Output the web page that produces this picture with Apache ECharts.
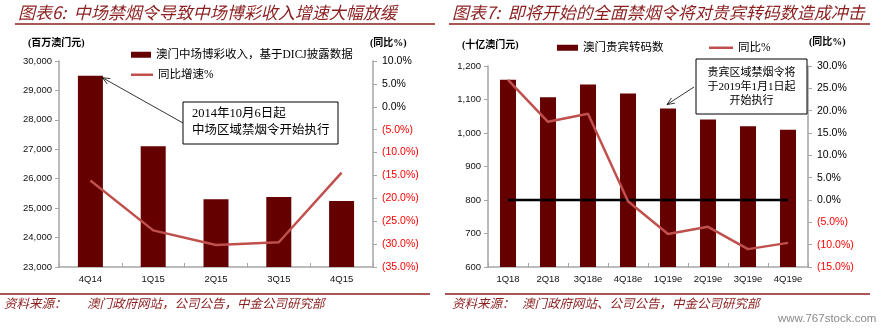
<!DOCTYPE html>
<html><head><meta charset="utf-8">
<script src="https://cdn.jsdelivr.net/npm/echarts@6/dist/echarts.min.js"></script>
<style>html,body{margin:0;padding:0;background:#fff}#c{width:889px;height:330px}</style>
</head><body><div id="c"></div>
<script>
// ---- data ----
const leftCats = ['4Q14', '1Q15', '2Q15', '3Q15', '4Q15'];
const leftRevenue = [29500, 27100, 25300, 25380, 25240];
const leftYoY = [-16.1, -27.0, -30.2, -29.6, -14.4];
const leftAxisMin = 23000, leftAxisMax = 30000, leftAxisStep = 1000;
const leftPctMin = -35, leftPctMax = 10, leftPctStep = 5;

const rightCats = ['1Q18', '2Q18', '3Q18e', '4Q18e', '1Q19e', '2Q19e', '3Q19e', '4Q19e'];
const rightRolling = [1159, 1107, 1145, 1118, 1073, 1040, 1020, 1010];
const rightYoY = [26.9, 17.5, 19.3, -0.3, -7.6, -6.0, -11.0, -9.6];
const rightZero = [0, 0, 0, 0, 0, 0, 0, 0];
const rightAxisMin = 600, rightAxisMax = 1200, rightAxisStep = 100;
const rightPctMin = -15, rightPctMax = 30, rightPctStep = 5;

const nameLeftBar = '澳门中场博彩收入，基于DICJ披露数据';
const nameLeftLine = '同比增速%';
const nameRightBar = '澳门贵宾转码数';
const nameRightLine = '同比%';

// ---- styles ----
const BAR = '#640000', LINE = '#C0504D', AXIS = '#a6a6a6', TITLE = '#8B1E1E';
const NUM = "'Liberation Sans', Arial, sans-serif";
const CJK = "'Noto Sans CJK SC', sans-serif";
const SERIF = "'Liberation Serif', 'Noto Sans CJK SC', serif";

const pctFmt = v => { v = +v; return v < 0 ? '(' + Math.abs(v).toFixed(1) + '%)' : v.toFixed(1) + '%'; };
const pctColor = v => (+v < 0 ? '#FF0000' : '#000');

function catAxis(grid, data) {
  return {
    type: 'category', gridIndex: grid, data: data,
    axisLine: { onZero: false, lineStyle: { color: AXIS, width: 1.5 } },
    axisTick: { show: true, inside: true, length: 4, lineStyle: { color: AXIS } },
    axisLabel: { color: '#111', fontSize: 9.5, fontFamily: NUM, margin: 7 }
  };
}
function valAxis(grid, pos, min, max, step, fmt, color, fs, margin) {
  return {
    type: 'value', gridIndex: grid, position: pos, min: min, max: max, interval: step,
    splitLine: { show: false },
    axisLine: { show: true, onZero: false, lineStyle: { color: AXIS, width: 1.5 } },
    axisTick: { show: true, length: 4, lineStyle: { color: AXIS } },
    axisLabel: { formatter: fmt, color: color, fontSize: fs, fontFamily: NUM, margin: margin }
  };
}
const legText = { fontSize: 11.5, fontFamily: SERIF, color: '#000' };

const chart = echarts.init(document.getElementById('c'), null, { renderer: 'canvas' });

const option = {
  animation: false,
  grid: [
    { left: 59, right: 516, top: 61, bottom: 63 },
    { left: 488, right: 81, top: 66, bottom: 63 }
  ],
  legend: [
    { data: [{ name: nameLeftBar, icon: 'rect' }], left: 126, top: 44, itemWidth: 20, itemHeight: 6, textStyle: legText },
    { data: [{ name: nameLeftLine, icon: 'rect' }], left: 126, top: 64, itemWidth: 22, itemHeight: 2.5, textStyle: legText },
    { data: [{ name: nameRightBar, icon: 'rect' }], left: 552, top: 37, itemWidth: 21, itemHeight: 6, textStyle: legText },
    { data: [{ name: nameRightLine, icon: 'rect' }], left: 704, top: 37, itemWidth: 24, itemHeight: 2.5, textStyle: legText }
  ],
  xAxis: [catAxis(0, leftCats), catAxis(1, rightCats)],
  yAxis: [
    valAxis(0, 'left', leftAxisMin, leftAxisMax, leftAxisStep, v => Number(v).toLocaleString('en-US'), '#111', 9.5, 7),
    valAxis(0, 'right', leftPctMin, leftPctMax, leftPctStep, pctFmt, pctColor, 10.5, 9),
    valAxis(1, 'left', rightAxisMin, rightAxisMax, rightAxisStep, v => Number(v).toLocaleString('en-US'), '#111', 9.5, 7),
    valAxis(1, 'right', rightPctMin, rightPctMax, rightPctStep, pctFmt, pctColor, 10.5, 9)
  ],
  series: [
    { name: nameLeftBar, type: 'bar', xAxisIndex: 0, yAxisIndex: 0, data: leftRevenue, barWidth: 25,
      itemStyle: { color: BAR } },
    { name: nameLeftLine, type: 'line', xAxisIndex: 0, yAxisIndex: 1, data: leftYoY, symbol: 'none',
      lineStyle: { color: LINE, width: 2.5 }, itemStyle: { color: LINE } },
    { name: nameRightBar, type: 'bar', xAxisIndex: 1, yAxisIndex: 2, data: rightRolling, barWidth: 16,
      itemStyle: { color: BAR } },
    { name: 'zero', type: 'line', xAxisIndex: 1, yAxisIndex: 3, data: rightZero, symbol: 'none',
      lineStyle: { color: '#000', width: 2.5 }, z: 3 },
    { name: nameRightLine, type: 'line', xAxisIndex: 1, yAxisIndex: 3, data: rightYoY, symbol: 'none',
      lineStyle: { color: LINE, width: 2.5 }, itemStyle: { color: LINE }, z: 4 }
  ]
};
chart.setOption(option);

function arrow(x1, y1, x2, y2) {
  const ang = Math.atan2(y2 - y1, x2 - x1), L = 8, a = 0.4;
  const p1 = [x2 - L * Math.cos(ang - a), y2 - L * Math.sin(ang - a)];
  const p2 = [x2 - L * Math.cos(ang + a), y2 - L * Math.sin(ang + a)];
  return [
    { type: 'line', z: 100, shape: { x1: x1, y1: y1, x2: x2, y2: y2 }, style: { stroke: '#000', lineWidth: 0.8 } },
    { type: 'polyline', z: 100, shape: { points: [p1, [x2, y2], p2] }, style: { stroke: '#000', lineWidth: 0.8, fill: null } }
  ];
}
const pL = chart.convertToPixel({ xAxisIndex: 0, yAxisIndex: 0 }, [leftCats[0], leftRevenue[0]]);
const pR = chart.convertToPixel({ xAxisIndex: 1, yAxisIndex: 2 }, [rightCats[4], rightRolling[4]]);

function txt(x, y, s, o) {
  return Object.assign({ type: 'text', x: x, y: y, z: 100,
    style: Object.assign({ text: s, fill: '#000', font: '11px ' + CJK, textVerticalAlign: 'middle' }, o || {}) });
}
const titleFont = 'italic 17px ' + CJK;
const footFont = 'italic 12.5px ' + CJK;

const graphic = [
  txt(18, 13, '图表6:  中场禁烟令导致中场博彩收入增速大幅放缓', { fill: TITLE, font: titleFont }),
  { type: 'line', shape: { x1: 15, y1: 24, x2: 435, y2: 24 }, style: { stroke: TITLE, lineWidth: 1.5 } },
  txt(452, 13, '图表7:  即将开始的全面禁烟令将对贵宾转码数造成冲击', { fill: TITLE, font: titleFont }),
  { type: 'line', shape: { x1: 449, y1: 24, x2: 870, y2: 24 }, style: { stroke: TITLE, lineWidth: 1.5 } },
  txt(28, 43, '(百万澳门元)', { font: 'bold 10px ' + SERIF }),
  txt(370, 43, '(同比%)', { font: 'bold 10px ' + SERIF }),
  txt(462, 45, '(十亿澳门元)', { font: 'bold 10px ' + SERIF }),
  txt(809, 42, '(同比%)', { font: 'bold 10px ' + SERIF }),
  { type: 'rect', z: 99, shape: { x: 183, y: 102, width: 155, height: 42 }, style: { fill: '#fff', stroke: '#000', lineWidth: 1 } },
  txt(192, 114, '2014年10月6日起', { font: '12.5px ' + SERIF }),
  txt(192, 131, '中场区域禁烟令开始执行', { font: '12.5px ' + SERIF }),
  { type: 'rect', z: 99, shape: { x: 696, y: 59, width: 111, height: 55 }, style: { fill: '#fff', stroke: '#000', lineWidth: 1 } },
  txt(751.5, 73, '贵宾区域禁烟令将', { font: '11px ' + SERIF, textAlign: 'center' }),
  txt(751.5, 87.5, '于2019年1月1日起', { font: '11px ' + SERIF, textAlign: 'center' }),
  txt(751.5, 101.5, '开始执行', { font: '11px ' + SERIF, textAlign: 'center' }),
  { type: 'line', shape: { x1: 0, y1: 294, x2: 430, y2: 294 }, style: { stroke: TITLE, lineWidth: 1.5 } },
  txt(4, 303, '资料来源：', { fill: TITLE, font: footFont }),
  txt(87, 303, '澳门政府网站，公司公告，中金公司研究部', { fill: TITLE, font: footFont }),
  { type: 'line', shape: { x1: 445, y1: 294, x2: 870, y2: 294 }, style: { stroke: TITLE, lineWidth: 1.5 } },
  txt(452, 303, '资料来源：', { fill: TITLE, font: footFont }),
  txt(522, 303, '澳门政府网站、公司公告，中金公司研究部', { fill: TITLE, font: footFont }),
  txt(778, 319, 'www.767stock.com', { fill: '#8a8a8a', font: '11.5px ' + NUM })
].concat(
  arrow(183, 123, pL[0] + 12, pL[1] + 2),
  arrow(694, 87, pR[0] - 1, pR[1] - 4)
);
chart.setOption({ graphic: graphic });
</script>
</body></html>
